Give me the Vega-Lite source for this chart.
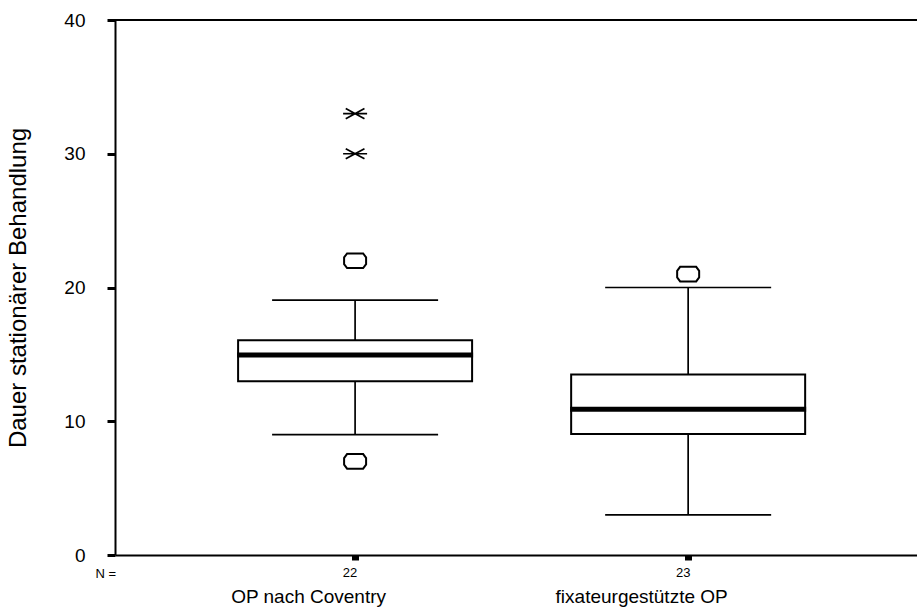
{
  "$schema": "https://vega.github.io/schema/vega-lite/v6.json",
  "width": 802,
  "height": 535,
  "autosize": {"type": "none"},
  "padding": {"left": 115, "top": 20, "right": 0, "bottom": 53},
  "background": "white",
  "config": {
    "font": "Liberation Sans",
    "view": {"stroke": null},
    "axis": {"labelColor": "black", "titleColor": "black", "domainColor": "black", "tickColor": "black", "grid": false, "titleFontWeight": "normal"}
  },
  "datasets": {
    "boxes": [
      {"group": "OP nach Coventry", "n": 22, "lower": 9, "q1": 13, "median": 14.95, "q3": 16.05, "upper": 19.05},
      {"group": "fixateurgestützte OP", "n": 23, "lower": 3, "q1": 9.05, "median": 10.9, "q3": 13.5, "upper": 20}
    ],
    "outliers": [
      {"group": "OP nach Coventry", "value": 22, "kind": "outlier"},
      {"group": "OP nach Coventry", "value": 7, "kind": "outlier"},
      {"group": "fixateurgestützte OP", "value": 21, "kind": "outlier"},
      {"group": "OP nach Coventry", "value": 30, "kind": "extreme"},
      {"group": "OP nach Coventry", "value": 33, "kind": "extreme"}
    ]
  },
  "data": {"name": "boxes"},
  "layer": [
    {
      "mark": {"type": "rule", "color": "black", "strokeWidth": 1.7, "opacity": 1},
      "encoding": {
        "x": {
          "field": "group", "type": "nominal", "sort": null,
          "scale": {"type": "point", "padding": 0.704, "align": 0.512},
          "axis": {
            "orient": "bottom", "domain": true, "domainWidth": 2, "ticks": true, "tickSize": 5, "tickWidth": 7,
            "labelFontSize": 19, "labelPadding": 27, "labelAngle": 0, "labelOffset": -47,
            "title": "N =", "titleFontSize": 13, "titleX": -20, "titleY": 22, "titleAlign": "left", "titleBaseline": "alphabetic", "titleAnchor": null
          }
        },
        "y": {
          "field": "lower", "type": "quantitative",
          "scale": {"domain": [0, 40], "nice": false},
          "axis": {
            "values": [0, 10, 20, 30, 40], "domain": true, "domainWidth": 2, "tickSize": 8, "tickWidth": 3,
            "labelFontSize": 19, "labelPadding": 22,
            "title": "Dauer stationärer Behandlung", "titleFontSize": 24, "titlePadding": 33
          }
        },
        "y2": {"field": "upper"}
      }
    },
    {
      "mark": {"type": "tick", "color": "black", "thickness": 1.7, "size": 166, "opacity": 1},
      "encoding": {
        "x": {"field": "group", "type": "nominal", "sort": null},
        "y": {"field": "lower", "type": "quantitative"}
      }
    },
    {
      "mark": {"type": "tick", "color": "black", "thickness": 1.7, "size": 166, "opacity": 1},
      "encoding": {
        "x": {"field": "group", "type": "nominal", "sort": null},
        "y": {"field": "upper", "type": "quantitative"}
      }
    },
    {
      "mark": {"type": "bar", "fill": "white", "stroke": "black", "strokeWidth": 2, "size": 234, "opacity": 1},
      "encoding": {
        "x": {"field": "group", "type": "nominal", "sort": null},
        "y": {"field": "q1", "type": "quantitative"},
        "y2": {"field": "q3"}
      }
    },
    {
      "mark": {"type": "tick", "color": "black", "thickness": 5, "size": 236, "opacity": 1},
      "encoding": {
        "x": {"field": "group", "type": "nominal", "sort": null},
        "y": {"field": "median", "type": "quantitative"}
      }
    },
    {
      "data": {"name": "outliers"},
      "transform": [{"filter": "datum.kind == 'outlier'"}],
      "mark": {"type": "point", "filled": false, "color": "black", "strokeWidth": 2, "size": 484, "opacity": 1,
        "shape": "M-0.73,-0.66L0.73,-0.66L1,-0.3L1,0.3L0.73,0.66L-0.73,0.66L-1,0.3L-1,-0.3Z"},
      "encoding": {
        "x": {"field": "group", "type": "nominal", "sort": null},
        "y": {"field": "value", "type": "quantitative"}
      }
    },
    {
      "data": {"name": "outliers"},
      "transform": [{"filter": "datum.kind == 'extreme'"}],
      "mark": {"type": "point", "filled": false, "color": "black", "strokeWidth": 1.7, "size": 576, "opacity": 1,
        "shape": "M-1,0L1,0M-0.78,-0.42L0.78,0.42M-0.78,0.42L0.78,-0.42"},
      "encoding": {
        "x": {"field": "group", "type": "nominal", "sort": null},
        "y": {"field": "value", "type": "quantitative"}
      }
    },
    {
      "mark": {"type": "rule", "color": "black", "strokeWidth": 2},
      "encoding": {"y": {"datum": 40, "type": "quantitative"}}
    },
    {
      "mark": {"type": "text", "fontSize": 13, "color": "black", "baseline": "alphabetic", "dy": 22, "dx": -5},
      "encoding": {
        "x": {"field": "group", "type": "nominal", "sort": null},
        "y": {"datum": 0, "type": "quantitative"},
        "text": {"field": "n", "type": "quantitative"}
      }
    }
  ]
}
